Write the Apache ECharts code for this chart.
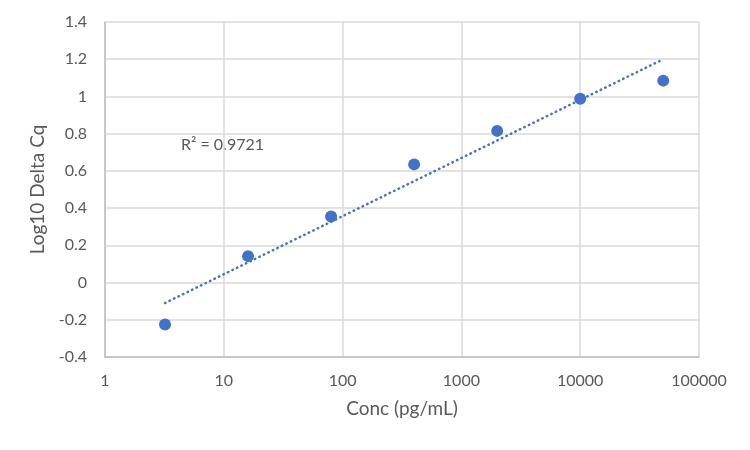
<!DOCTYPE html>
<html>
<head>
<meta charset="utf-8">
<script src="https://cdn.jsdelivr.net/npm/echarts@6/dist/echarts.min.js"></script>
<style>
  html, body { margin: 0; padding: 0; background: #fff; }
  #chart { width: 750px; height: 450px; }
</style>
</head>
<body>
<div id="chart"></div>
<script>
// 浓度 (pg/mL) 与 log10 ΔCq
const conc = [3.2, 16, 80, 400, 2000, 10000, 50000];
const log10DeltaCq = [-0.225, 0.142, 0.355, 0.635, 0.815, 0.988, 1.085];
// 趋势线两端（原图虚线起止点）
const trendX = [3.2, 50000];
const trendY = [-0.11, 1.2];
const rSquaredText = 'R² = 0.9721';

const FONT = 'Lato, "Liberation Sans", sans-serif';
const TEXT_COLOR = '#595959';
const BLUE = '#4472C4';

const chart = echarts.init(document.getElementById('chart'));

const fmtNum = v => String(Math.round(v * 1000) / 1000);

chart.setOption({
    animation: false,
    grid: { left: 105, right: 51, top: 22, bottom: 93, containLabel: false },
    xAxis: {
        type: 'log',
        logBase: 10,
        min: 1,
        max: 100000,
        name: 'Conc (pg/mL)',
        nameLocation: 'middle',
        nameGap: 42,
        nameTextStyle: { color: TEXT_COLOR, fontSize: 19, fontFamily: FONT },
        axisLine: { show: true, onZero: false, lineStyle: { color: '#bfbfbf', width: 1.5 } },
        axisTick: { show: false },
        axisLabel: { color: TEXT_COLOR, fontSize: 16, fontFamily: FONT, margin: 16, formatter: v => fmtNum(v) },
        splitLine: { show: true, lineStyle: { color: '#d9d9d9', width: 1.5 } },
        minorTick: { show: false },
    },
    yAxis: {
        type: 'value',
        min: -0.4,
        max: 1.4,
        interval: 0.2,
        name: 'Log10 Delta Cq',
        nameLocation: 'middle',
        nameGap: 55,
        nameTextStyle: { color: TEXT_COLOR, fontSize: 19, fontFamily: FONT },
        axisLine: { show: true, onZero: false, lineStyle: { color: '#bfbfbf', width: 1.5 } },
        axisTick: { show: false },
        axisLabel: { color: TEXT_COLOR, fontSize: 16, fontFamily: FONT, margin: 18, formatter: v => fmtNum(v) },
        splitLine: { show: true, lineStyle: { color: '#d9d9d9', width: 1.5 } },
    },
    series: [
        {
            name: 'trend',
            type: 'line',
            data: trendX.map((x, i) => [x, trendY[i]]),
            symbol: 'none',
            silent: true,
            z: 1,
            lineStyle: { color: BLUE, width: 2.5, type: [0.5, 4.5], cap: 'round' },
        },
        {
            name: 'data',
            type: 'scatter',
            data: conc.map((x, i) => [x, log10DeltaCq[i]]),
            symbol: 'circle',
            symbolSize: 12,
            itemStyle: { color: BLUE, opacity: 1 },
            z: 2,
        },
    ],
    graphic: [{
        type: 'text',
        left: 181,
        top: 137,
        style: { text: rSquaredText, fill: TEXT_COLOR, font: '16px ' + FONT },
    }],
});
</script>
</body>
</html>
